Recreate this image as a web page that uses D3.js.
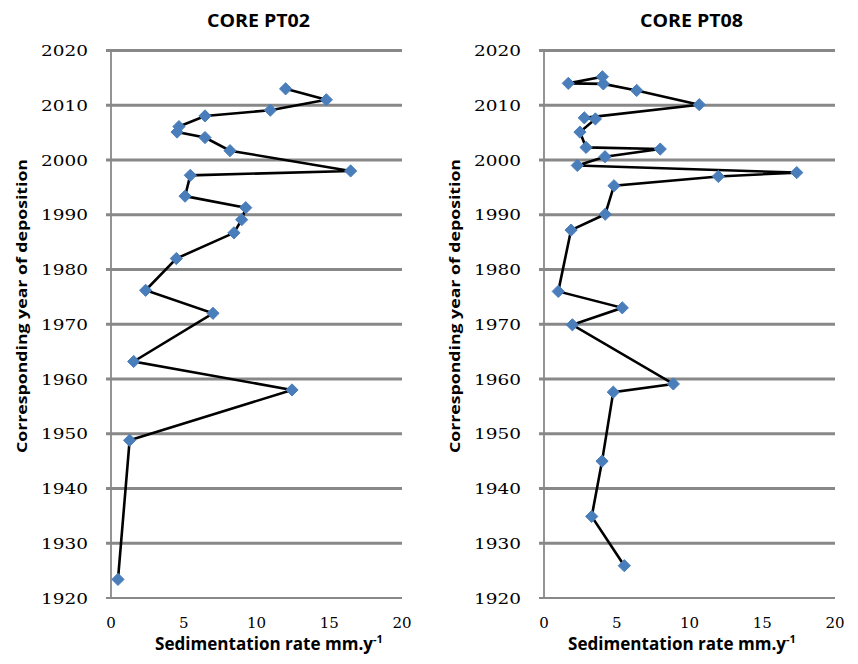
<!DOCTYPE html>
<html>
<head>
<meta charset="utf-8">
<script src="https://cdn.jsdelivr.net/npm/d3@7"></script>
<style>
  body { margin: 0; background: #fff; }
  .tick-y, .tick-x { font-family: "DejaVu Serif", serif; font-size: 15px; fill: #000; }
  .ttl { font-family: "Open Sans", sans-serif; font-weight: bold; fill: #000; }
</style>
</head>
<body>
<div id="chart"></div>
<script>
// core PT02: sedimentation rate (mm/y) and corresponding year
var pt02Rate = [12.0, 14.8, 10.95, 6.46, 4.67, 4.54, 6.46, 8.18, 16.47, 5.45, 5.09, 9.26, 8.98, 8.45, 4.49, 2.38, 7.01, 1.56, 12.44, 1.28, 0.48];
var pt02Year = [2013.0, 2011.0, 2009.1, 2008.05, 2006.1, 2005.1, 2004.1, 2001.7, 1998.0, 1997.2, 1993.4, 1991.3, 1989.1, 1986.7, 1982.0, 1976.2, 1972.0, 1963.2, 1958.0, 1948.8, 1923.4];

// core PT08
var pt08Rate = [4.01, 1.67, 4.08, 6.37, 10.67, 2.77, 3.53, 2.47, 2.89, 7.99, 4.19, 2.29, 17.37, 11.98, 4.81, 4.21, 1.86, 0.98, 5.38, 1.95, 8.89, 4.76, 3.99, 3.28, 5.52];
var pt08Year = [2015.2, 2014.0, 2013.9, 2012.7, 2010.1, 2007.7, 2007.5, 2005.1, 2002.3, 2002.0, 2000.6, 1999.0, 1997.7, 1997.0, 1995.3, 1990.1, 1987.2, 1976.0, 1973.0, 1969.9, 1959.1, 1957.6, 1945.0, 1934.9, 1925.9];

var yearTicks = [1920, 1930, 1940, 1950, 1960, 1970, 1980, 1990, 2000, 2010, 2020];
var rateTicks = [0, 5, 10, 15, 20];

var panels = [
  {title: "CORE PT02", rate: pt02Rate, year: pt02Year, left: 111, right: 402, xlab: 269, ylab: 22},
  {title: "CORE PT08", rate: pt08Rate, year: pt08Year, left: 544, right: 835, xlab: 682, ylab: 455}
];

var W = 858, H = 664;
var plotTop = 50.5, plotBottom = 598;

var svg = d3.select("#chart").append("svg")
  .attr("width", W)
  .attr("height", H);

var y = d3.scaleLinear().domain([1920, 2020]).range([plotBottom, plotTop]);

panels.forEach(function(p) {
  var x = d3.scaleLinear().domain([0, 20]).range([p.left, p.right]);
  var g = svg.append("g");

  // gridlines (with short outward tick)
  g.selectAll(".grid").data(yearTicks.slice(1))
    .enter().append("line")
    .attr("x1", p.left - 5).attr("x2", p.right)
    .attr("y1", function(d) { return y(d); })
    .attr("y2", function(d) { return y(d); })
    .attr("stroke", "#888888")
    .attr("stroke-width", 2.8);

  // axes lines
  g.append("line")
    .attr("x1", p.left).attr("x2", p.left)
    .attr("y1", plotTop - 1).attr("y2", plotBottom)
    .attr("stroke", "#888888").attr("stroke-width", 1.8);
  g.append("line")
    .attr("x1", p.left - 5).attr("x2", p.right)
    .attr("y1", plotBottom).attr("y2", plotBottom)
    .attr("stroke", "#888888").attr("stroke-width", 1.8);

  // y tick labels
  g.selectAll(".tick-y").data(yearTicks)
    .enter().append("text")
    .attr("class", "tick-y")
    .attr("x", p.left - 23)
    .attr("y", function(d) { return y(d) + 5.5; })
    .attr("text-anchor", "end")
    .attr("textLength", 47)
    .attr("lengthAdjust", "spacingAndGlyphs")
    .text(function(d) { return d; });

  // x tick labels
  g.selectAll(".tick-x").data(rateTicks)
    .enter().append("text")
    .attr("class", "tick-x")
    .attr("x", function(d) { return x(d); })
    .attr("y", 628)
    .attr("text-anchor", "middle")
    .text(function(d) { return d; });

  // title
  g.append("text")
    .attr("class", "ttl")
    .attr("x", (p.left + p.right) / 2 + 2)
    .attr("y", 27)
    .attr("text-anchor", "middle")
    .style("font-size", "18px")
    .attr("textLength", 103)
    .attr("lengthAdjust", "spacingAndGlyphs")
    .text(p.title);

  // x axis title
  var xt = g.append("text")
    .attr("class", "ttl")
    .attr("x", p.xlab)
    .attr("y", 650)
    .attr("text-anchor", "middle")
    .style("font-size", "17px");
  xt.append("tspan")
    .attr("textLength", 218)
    .attr("lengthAdjust", "spacingAndGlyphs")
    .text("Sedimentation rate mm.y");
  xt.append("tspan").attr("dy", -7).style("font-size", "11px").text("-1");

  // y axis title
  g.append("text")
    .attr("class", "ttl")
    .attr("transform", "translate(" + (p.ylab + 5) + "," + 306 + ") rotate(-90)")
    .attr("text-anchor", "middle")
    .style("font-size", "14px")
    .attr("textLength", 294)
    .attr("lengthAdjust", "spacingAndGlyphs")
    .text("Corresponding  year of deposition");

  // data line
  var pts = p.rate.map(function(r, i) { return [r, p.year[i]]; });
  var line = d3.line()
    .x(function(d) { return x(d[0]); })
    .y(function(d) { return y(d[1]); });
  g.append("path")
    .datum(pts)
    .attr("d", line)
    .attr("fill", "none")
    .attr("stroke", "#000")
    .attr("stroke-width", 2.6)
    .attr("stroke-linejoin", "miter");

  // diamond markers
  var diamond = d3.symbol().type(d3.symbolDiamond2).size(95);
  g.selectAll(".pt").data(pts)
    .enter().append("path")
    .attr("transform", function(d) { return "translate(" + x(d[0]) + "," + y(d[1]) + ")"; })
    .attr("d", diamond)
    .attr("fill", "#4a7ebb")
    .attr("stroke", "#4a7ebb")
    .attr("stroke-width", 1);
});
</script>
</body>
</html>
